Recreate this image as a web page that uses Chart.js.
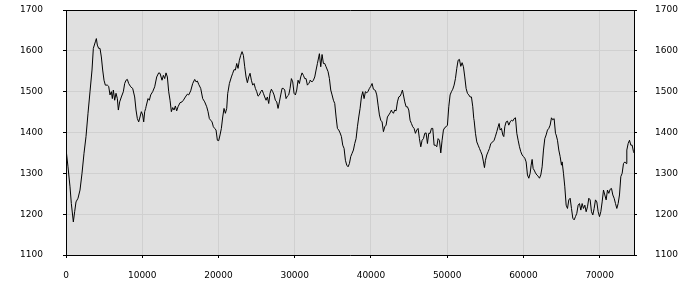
<!DOCTYPE html>
<html>
<head>
<meta charset="utf-8">
<script src="https://cdn.jsdelivr.net/npm/chart.js@4/dist/chart.umd.min.js"></script>
<style>
  body { margin: 0; background: #fff; }
  #wrap { width: 700px; height: 300px; }
</style>
</head>
<body>
<div id="wrap"><canvas id="grafico" width="700" height="300"></canvas></div>
<script>
// posições no eixo x (unidades do gráfico)
const posX = [
  0, 262, 525, 700, 962, 1137, 1312, 1574, 1837, 2099, 2362, 2624, 2886, 3149, 3411, 3586, 3848, 3980, 4111, 4286,
  4461, 4636, 4811, 4986, 5160, 5423, 5598, 5773, 5948, 6079, 6210, 6385, 6560, 6735, 6866, 7041, 7260, 7522, 7697, 7872,
  8047, 8222, 8484, 8746, 9009, 9184, 9359, 9534, 9708, 9883, 10058, 10190, 10321, 10452,
  10496, 10758, 10933, 11108, 11371, 11633, 11895, 12158, 12333, 12595, 12770, 12945, 13120, 13295, 13470, 13645, 13820, 13994,
  14169, 14344, 14519, 14694, 14957, 15219, 15394, 15656, 15919, 16094, 16356, 16618, 16881, 17056, 17230, 17405, 17668, 17930,
  18192, 18455, 18630, 18805, 18980, 19155, 19329, 19504, 19679, 19854, 20029, 20204, 20379, 20554, 20729, 20904, 21079, 21210,
  21254, 21429, 21691, 21866, 22041, 22216, 22391, 22566, 22741, 22916, 23091, 23266, 23441, 23616, 23790, 23965, 24140, 24315,
  24490, 24665, 24840, 25015, 25190, 25365, 25540, 25714, 25889, 26064, 26239, 26414, 26589, 26764, 26939, 27114, 27289, 27464,
  27639, 27814, 27988, 28163, 28338, 28513, 28688, 28863, 29038, 29213, 29388, 29563, 29738, 29913, 30088, 30263, 30437, 30612,
  30787, 30962, 31137, 31312, 31487, 31662, 31837, 31968,
  32013, 32275, 32450, 32625, 32800, 32975, 33150, 33237, 33412, 33587, 33762, 33937, 34112, 34374, 34549, 34724, 34899, 35074,
  35249, 35424, 35599, 35774, 35949, 36124, 36299, 36474, 36648, 36823, 36998, 37173, 37348, 37523, 37698, 37873, 38048, 38223,
  38398, 38573, 38747, 38922, 39097, 39272, 39447, 39622, 39797, 39972, 40147, 40322, 40584, 40759, 40934, 41109, 41284, 41459,
  41634, 41809, 41983, 42158, 42333, 42508, 42683,
  42771, 42946, 43121, 43296, 43471, 43646, 43821, 43995, 44127, 44258, 44433, 44608, 44783, 44958, 45133, 45307, 45482, 45657,
  45832, 46007, 46182, 46357, 46532, 46707, 46882, 47057, 47232, 47406, 47581, 47756, 47931, 48106, 48281, 48456, 48631, 48806,
  48981, 49156, 49331, 49505, 49680, 49855, 50030, 50205, 50380, 50555, 50730, 50905, 51080, 51255, 51430, 51604, 51779, 51954,
  52129, 52304, 52479, 52654, 52829, 53004, 53179, 53354, 53485,
  53530, 53705, 53880, 54055, 54230, 54405, 54580, 54755, 54886, 55017, 55192, 55367, 55542, 55717, 55979, 56154, 56329, 56504,
  56679, 56810, 56941, 57116, 57291, 57422, 57553, 57728, 57903, 58078, 58253, 58428, 58603, 58778, 58953, 59128, 59303, 59478,
  59652, 59827, 60002, 60177, 60352, 60527, 60702, 60877, 61008, 61139, 61271, 61402, 61577, 61752, 61926, 62101, 62276, 62451,
  62626, 62801, 62976, 63151, 63326, 63501, 63676, 63851, 64025, 64200,
  64288, 64463, 64638, 64813, 64988, 65075, 65250, 65425, 65600, 65775, 65950, 66125, 66300, 66475, 66650, 66824, 66999, 67174,
  67349, 67524, 67699, 67874, 68049, 68224, 68399, 68574, 68748, 68923, 69098, 69273, 69448, 69623, 69798, 69973, 70148, 70323,
  70498, 70672, 70847, 71022, 71197, 71372, 71547, 71722, 71897, 72072, 72247, 72421, 72596, 72771, 72946, 73121, 73296, 73471,
  73559, 73734, 73909, 74084, 74258, 74433, 74500
];

// valores
const valores = [
  1360, 1316, 1267, 1226, 1181, 1206, 1230, 1239, 1259, 1300, 1349, 1390, 1447, 1500, 1553, 1606, 1622, 1630, 1614, 1606,
  1606, 1585, 1553, 1528, 1516, 1516, 1513, 1492, 1500, 1483, 1504, 1479, 1496, 1483, 1455, 1475, 1487, 1500, 1520, 1528,
  1530, 1520, 1512, 1508, 1487, 1455, 1434, 1426, 1438, 1451, 1443, 1426, 1451, 1459,
  1463, 1483, 1479, 1492, 1500, 1512, 1536, 1546, 1545, 1528, 1540, 1532, 1546, 1536, 1500, 1479, 1451, 1461,
  1455, 1465, 1453, 1463, 1473, 1475, 1479, 1487, 1494, 1492, 1502, 1520, 1530, 1524, 1526, 1518, 1508, 1483,
  1475, 1463, 1451, 1434, 1430, 1426, 1414, 1410, 1406, 1381, 1380, 1394, 1410, 1438, 1459, 1447, 1459, 1496,
  1500, 1520, 1536, 1545, 1554, 1553, 1569, 1557, 1577, 1589, 1598, 1589, 1561, 1536, 1522, 1536, 1545, 1528,
  1516, 1520, 1508, 1500, 1489, 1492, 1500, 1504, 1496, 1487, 1479, 1487, 1471, 1496, 1506, 1500, 1492, 1479,
  1475, 1459, 1475, 1492, 1508, 1508, 1504, 1483, 1489, 1492, 1508, 1532, 1524, 1496, 1492, 1504, 1528, 1520,
  1536, 1546, 1540, 1532, 1532, 1516, 1520, 1524,
  1528, 1524, 1528, 1536, 1553, 1569, 1585, 1593, 1561, 1591, 1569, 1569, 1561, 1549, 1532, 1504, 1492, 1479,
  1471, 1438, 1410, 1406, 1399, 1390, 1369, 1361, 1332, 1320, 1316, 1324, 1341, 1349, 1357, 1373, 1385, 1414,
  1438, 1459, 1487, 1500, 1483, 1500, 1497, 1501, 1508, 1513, 1520, 1506, 1503, 1492, 1467, 1443, 1430, 1426,
  1402, 1414, 1418, 1438, 1443, 1448, 1455,
  1451, 1447, 1455, 1453, 1475, 1487, 1489, 1496, 1504, 1492, 1475, 1463, 1463, 1455, 1430, 1422, 1414, 1410,
  1398, 1406, 1410, 1385, 1365, 1381, 1385, 1398, 1399, 1373, 1398, 1398, 1410, 1410, 1369, 1369, 1365, 1385,
  1381, 1350, 1381, 1406, 1412, 1414, 1418, 1463, 1492, 1500, 1506, 1516, 1532, 1557, 1577, 1579, 1562, 1571,
  1561, 1536, 1508, 1496, 1492, 1487, 1487, 1463, 1434,
  1430, 1398, 1377, 1369, 1361, 1353, 1345, 1328, 1314, 1332, 1345, 1353, 1361, 1373, 1377, 1381, 1391, 1402,
  1414, 1422, 1406, 1410, 1394, 1390, 1414, 1426, 1428, 1418, 1426, 1430, 1428, 1434, 1436, 1398, 1381, 1365,
  1353, 1345, 1341, 1337, 1328, 1296, 1288, 1300, 1320, 1334, 1312, 1308, 1301, 1296, 1293, 1288, 1296, 1316,
  1357, 1385, 1394, 1406, 1410, 1418, 1436, 1431, 1434, 1398,
  1394, 1381, 1357, 1341, 1320, 1328, 1300, 1267, 1222, 1214, 1235, 1239, 1214, 1190, 1186, 1194, 1202, 1222,
  1226, 1210, 1226, 1214, 1222, 1206, 1218, 1239, 1235, 1206, 1198, 1214, 1235, 1230, 1206, 1194, 1206, 1230,
  1259, 1247, 1235, 1259, 1251, 1261, 1263, 1247, 1239, 1226, 1214, 1226, 1247, 1292, 1300, 1324, 1328, 1324,
  1357, 1373, 1381, 1369, 1369, 1353, 1350
];

const ticksX = [0, 10000, 20000, 30000, 40000, 50000, 60000, 70000];
const ticksY = [1100, 1200, 1300, 1400, 1500, 1600, 1700];
const limitesX = [0, 74500];

const pontos = posX.map((x, i) => ({ x: x, y: valores[i] }));

const fonte = { family: "DejaVu Sans", size: 9 };

// pinta o fundo cinza da área do gráfico
const fundoCinza = {
  id: "fundoCinza",
  beforeDraw(chart) {
    const { ctx, chartArea: a } = chart;
    ctx.save();
    ctx.fillStyle = "#e0e0e0";
    ctx.fillRect(a.left, a.top, a.right - a.left, a.bottom - a.top);
    ctx.restore();
  },
};

const semVirgula = (v) => String(v);
const fixarTicks = (lista) => (s) => { s.ticks = lista.map((v) => ({ value: v })); };

function eixoY(lado, padding, desenhaGrade) {
  return {
    position: lado,
    min: ticksY[0],
    max: ticksY[ticksY.length - 1],
    afterBuildTicks: fixarTicks(ticksY),
    afterFit: (s) => { s.width = 66; s.paddingTop = 0; s.paddingBottom = 0; },
    ticks: { padding: padding, color: "#000", font: fonte, callback: semVirgula },
    grid: {
      drawOnChartArea: desenhaGrade,
      color: (c) => (c.tick && c.tick.value === ticksY[ticksY.length - 1] ? "#000" : "#d0d0d0"),
      tickColor: "#000",
      tickLength: 3,
    },
    border: { color: "#000", width: 1 },
  };
}

new Chart(document.getElementById("grafico").getContext("2d"), {
  type: "line",
  data: {
    datasets: [
      {
        data: pontos,
        borderColor: "#000",
        borderWidth: 1,
        pointRadius: 0,
        tension: 0,
        fill: false,
      },
    ],
  },
  options: {
    responsive: false,
    animation: false,
    layout: { padding: { top: 10, left: 0, right: 0, bottom: 0 } },
    plugins: {
      legend: { display: false },
      tooltip: { enabled: false },
    },
    scales: {
      x: {
        type: "linear",
        min: limitesX[0],
        max: limitesX[1],
        afterBuildTicks: fixarTicks(ticksX),
        afterFit: (s) => { s.height = 45; s.paddingLeft = 0; s.paddingRight = 0; },
        ticks: {
          autoSkip: false,
          maxRotation: 0,
          padding: 12,
          color: "#000",
          font: fonte,
          callback: semVirgula,
        },
        grid: { color: "#d0d0d0", tickColor: "#000", tickLength: 3 },
        border: { color: "#000", width: 1 },
      },
      y: eixoY("left", 20, true),
      y2: eixoY("right", 18, false),
    },
  },
  plugins: [fundoCinza],
});
</script>
</body>
</html>
